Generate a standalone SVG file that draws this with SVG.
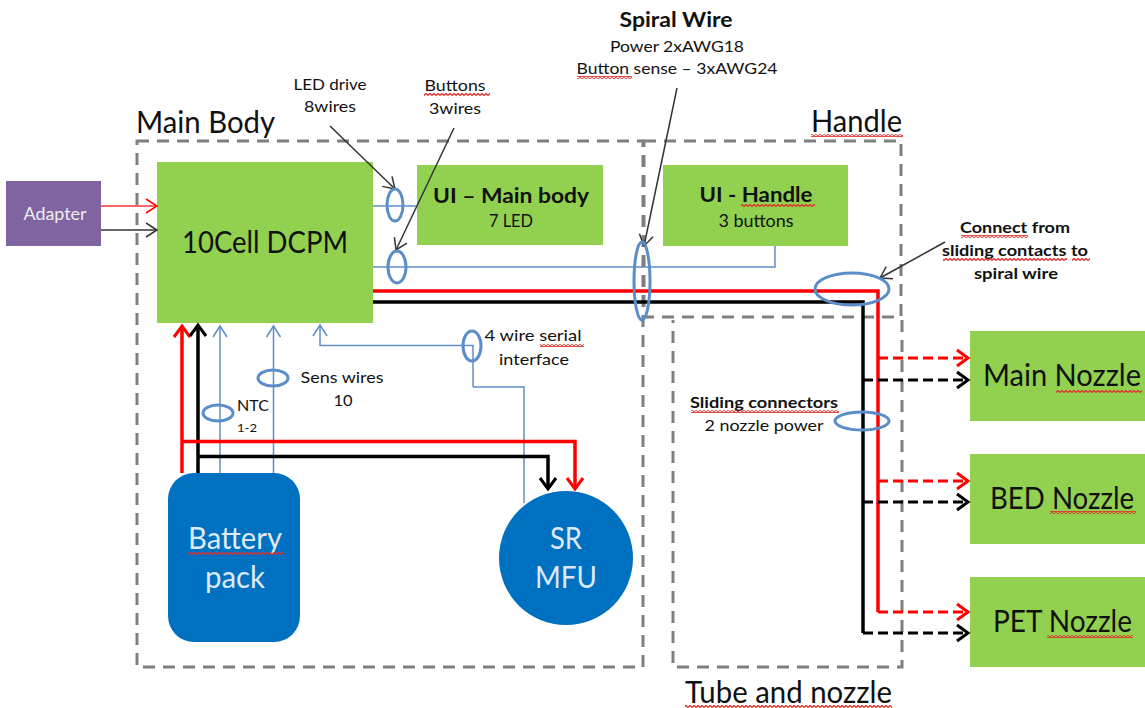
<svg xmlns="http://www.w3.org/2000/svg" width="1145" height="708" viewBox="0 0 1145 708">
<style>
text{font-family:Lato,"Open Sans","Liberation Sans",sans-serif;fill:#111}
.c{text-anchor:middle}
.b{font-weight:700}
.s14{font-size:16px}
.s16{font-size:17px}
.s20{font-size:21px}
.s27{font-size:30px}
.s28{font-size:30px}
.g{fill:#92d050}
.bl{fill:#0070c0}
.d{fill:none;stroke:#7f7f7f;stroke-width:3;stroke-dasharray:12 8}
.w{fill:none;stroke:#5f8dcb;stroke-width:1.500}
.e{fill:none;stroke:#5b8ec8;stroke-width:3}
.r{fill:none;stroke:#f00;stroke-width:3.500}
.k{fill:none;stroke:#000;stroke-width:3.500}
.rd{fill:none;stroke:#f00;stroke-width:3;stroke-dasharray:10 5}
.kd{fill:none;stroke:#000;stroke-width:3;stroke-dasharray:10 5}
.a{fill:none;stroke:#333;stroke-width:1.500}
.q{fill:url(#sq)}
</style>
<defs>
<pattern id="sq" width="4" height="3" patternUnits="userSpaceOnUse"><path d="M0 2.500L2 .5L4 2.500" fill="none" stroke="#e0302a" stroke-width="1.300"/></pattern>
<marker id="mr" markerUnits="userSpaceOnUse" markerWidth="18" markerHeight="20" refX="14" refY="10" orient="auto"><path d="M3 2L14 10L3 18" fill="none" stroke="#f00" stroke-width="3"/></marker>
<marker id="mk" markerUnits="userSpaceOnUse" markerWidth="18" markerHeight="20" refX="14" refY="10" orient="auto"><path d="M3 2L14 10L3 18" fill="none" stroke="#000" stroke-width="3"/></marker>
<marker id="mb" markerUnits="userSpaceOnUse" markerWidth="18" markerHeight="20" refX="14" refY="10" orient="auto"><path d="M3 3L14 10L3 17" fill="none" stroke="#5f8dcb" stroke-width="1.500"/></marker>
<marker id="mrt" markerUnits="userSpaceOnUse" markerWidth="18" markerHeight="20" refX="14" refY="10" orient="auto"><path d="M3 3L14 10L3 17" fill="none" stroke="#f00" stroke-width="1.500"/></marker>
<marker id="mkt" markerUnits="userSpaceOnUse" markerWidth="18" markerHeight="20" refX="14" refY="10" orient="auto"><path d="M3 3L14 10L3 17" fill="none" stroke="#333" stroke-width="1.500"/></marker>
</defs>
<rect width="1145" height="708" fill="#fff"/>
<g id="regions">
<rect class="d" x="137" y="141" width="506" height="526"/>
<rect class="d" x="644" y="141" width="257" height="176"/>
<path class="d" d="M902 320V667H673V320"/>
<text class="s28" x="136" y="133" textLength="139" lengthAdjust="spacingAndGlyphs">Main Body</text>
<text class="s28" x="811" y="132" textLength="91" lengthAdjust="spacingAndGlyphs">Handle</text>
<rect class="q" x="811" y="134" width="92" height="3"/>
<text class="s28" x="685" y="703" textLength="207" lengthAdjust="spacingAndGlyphs">Tube and nozzle</text>
<rect class="q" x="685" y="705" width="207" height="3"/>
</g>
<g id="adapter"><rect x="6" y="181" width="95" height="65" fill="#8064a2"/><text class="s16 c" x="55" y="220" style="fill:#eee" textLength="63" lengthAdjust="spacingAndGlyphs">Adapter</text></g>
<g id="dcpm"><rect class="g" x="157" y="162" width="216" height="161"/><text class="s27 c" x="265" y="253" textLength="166" lengthAdjust="spacingAndGlyphs">10Cell DCPM</text></g>
<g id="ui-main"><rect class="g" x="417" y="165" width="186" height="80"/><text class="s20 b c" x="511" y="203" textLength="156" lengthAdjust="spacingAndGlyphs">UI – Main body</text><text class="s16 c" x="511" y="227" textLength="44" lengthAdjust="spacingAndGlyphs">7 LED</text></g>
<g id="ui-handle"><rect class="g" x="663" y="165" width="185" height="81"/><text class="s20 b c" x="756" y="202" textLength="113" lengthAdjust="spacingAndGlyphs">UI - Handle</text><rect class="q" x="741" y="204" width="74" height="3"/><text class="s16 c" x="756" y="227" textLength="75" lengthAdjust="spacingAndGlyphs">3 buttons</text></g>
<g id="battery"><rect class="bl" x="168" y="473" width="132" height="169" rx="26"/><text class="s28 c" x="235" y="549" style="fill:#dfe9f5" textLength="94" lengthAdjust="spacingAndGlyphs">Battery</text><rect class="q" x="188" y="552" width="96" height="3"/><text class="s28 c" x="235" y="588" style="fill:#dfe9f5" textLength="60" lengthAdjust="spacingAndGlyphs">pack</text></g>
<g id="mfu"><circle class="bl" cx="566" cy="558" r="67"/><text class="s28 c" x="566" y="549" style="fill:#dfe9f5" textLength="32" lengthAdjust="spacingAndGlyphs">SR</text><text class="s28 c" x="566" y="588" style="fill:#dfe9f5" textLength="62" lengthAdjust="spacingAndGlyphs">MFU</text></g>
<g id="main-nozzle"><rect class="g" x="970" y="331" width="175" height="90"/><text class="s28" x="983" y="386" textLength="158" lengthAdjust="spacingAndGlyphs">Main Nozzle</text><rect class="q" x="1056" y="390" width="86" height="3"/></g>
<g id="bed-nozzle"><rect class="g" x="970" y="454" width="175" height="90"/><text class="s28" x="990" y="509" textLength="144" lengthAdjust="spacingAndGlyphs">BED Nozzle</text><rect class="q" x="1050" y="511" width="86" height="3"/></g>
<g id="pet-nozzle"><rect class="g" x="970" y="577" width="175" height="90"/><text class="s28" x="993" y="632" textLength="139" lengthAdjust="spacingAndGlyphs">PET Nozzle</text><rect class="q" x="1047" y="635" width="86" height="3"/></g>
<g id="connectors">
<path class="a" style="stroke:#f33" marker-end="url(#mrt)" d="M101 206H157"/>
<path class="a" marker-end="url(#mkt)" d="M101 230H157"/>
<path class="w" d="M373 206H417"/>
<path class="w" d="M373 267H775V246"/>
<path class="r" d="M373 291H878V612"/>
<path class="k" d="M373 302H863V633"/>
<path class="rd" marker-end="url(#mr)" d="M878 358H968"/>
<path class="kd" marker-end="url(#mk)" d="M863 380H968"/>
<path class="rd" marker-end="url(#mr)" d="M878 481H968"/>
<path class="kd" marker-end="url(#mk)" d="M863 502H968"/>
<path class="rd" marker-end="url(#mr)" d="M878 612H968"/>
<path class="kd" marker-end="url(#mk)" d="M863 633H968"/>
<path class="r" marker-end="url(#mr)" d="M182 473V326"/>
<path class="k" marker-end="url(#mk)" d="M198 473V325"/>
<path class="w" marker-end="url(#mb)" d="M220 473V326"/>
<path class="w" marker-end="url(#mb)" d="M273.500 473V326"/>
<path class="w" marker-end="url(#mb)" d="M473 387V345.500H320V325"/>
<path class="w" d="M473 387H524V503"/>
<path class="r" marker-end="url(#mr)" d="M183 441.500H575V489"/>
<path class="k" marker-end="url(#mk)" d="M198 456.500H548V489"/>
<path class="a" marker-end="url(#mkt)" d="M330 126L395 189"/>
<path class="a" marker-end="url(#mkt)" d="M454 128L396 250"/>
<path class="a" marker-end="url(#mkt)" d="M677 88L644 246"/>
<path class="a" marker-end="url(#mkt)" d="M945 242L880 278"/>
<ellipse class="e" cx="395" cy="205" rx="8" ry="16"/>
<ellipse class="e" cx="397" cy="267" rx="9" ry="16"/>
<ellipse class="e" cx="642" cy="281" rx="8" ry="39"/>
<ellipse class="e" cx="852" cy="289" rx="37" ry="16"/>
<ellipse class="e" cx="862" cy="421" rx="27" ry="9"/>
<ellipse class="e" cx="218" cy="413" rx="15" ry="8"/>
<ellipse class="e" cx="273" cy="378" rx="15" ry="8"/>
<ellipse class="e" cx="472" cy="346" rx="9" ry="15"/>
</g>
<g id="labels">
<text class="s20 b c" x="676" y="27" style="font-size:20px" textLength="113" lengthAdjust="spacingAndGlyphs">Spiral Wire</text>
<text class="s14 c" x="677" y="52" textLength="134" lengthAdjust="spacingAndGlyphs">Power 2xAWG18</text>
<text class="s14 c" x="677" y="74" textLength="201" lengthAdjust="spacingAndGlyphs">Button sense – 3xAWG24</text>
<rect class="q" x="577" y="76" width="55" height="3"/>
<text class="s14 c" x="330" y="90" textLength="73" lengthAdjust="spacingAndGlyphs">LED drive</text>
<text class="s14 c" x="330" y="112" textLength="52" lengthAdjust="spacingAndGlyphs">8wires</text>
<text class="s14 c" x="455" y="91" textLength="61" lengthAdjust="spacingAndGlyphs">Buttons</text>
<rect class="q" x="424" y="93" width="66" height="3"/>
<text class="s14 c" x="455" y="114" textLength="52" lengthAdjust="spacingAndGlyphs">3wires</text>
<text class="s14 b c" x="1015" y="233" textLength="110" lengthAdjust="spacingAndGlyphs">Connect from</text>
<rect class="q" x="961" y="235" width="67" height="3"/>
<text class="s14 b c" x="1015" y="256" textLength="146" lengthAdjust="spacingAndGlyphs">sliding contacts to</text>
<rect class="q" x="943" y="258" width="124" height="3"/>
<rect class="q" x="1072" y="258" width="18" height="3"/>
<text class="s14 b c" x="1016" y="279" textLength="84" lengthAdjust="spacingAndGlyphs">spiral wire</text>
<text class="s14 b c" x="764" y="408" textLength="148" lengthAdjust="spacingAndGlyphs">Sliding connectors</text>
<rect class="q" x="691" y="410" width="148" height="3"/>
<text class="s14 c" x="764" y="431" textLength="119" lengthAdjust="spacingAndGlyphs">2 nozzle power</text>
<text class="s14 c" x="533" y="341" textLength="97" lengthAdjust="spacingAndGlyphs">4 wire serial</text>
<rect class="q" x="540" y="344" width="44" height="3"/>
<text class="s14 c" x="534" y="365" textLength="70" lengthAdjust="spacingAndGlyphs">interface</text>
<text class="s14 c" x="342" y="383" textLength="83" lengthAdjust="spacingAndGlyphs">Sens wires</text>
<text class="s14 c" x="343" y="406" textLength="19" lengthAdjust="spacingAndGlyphs">10</text>
<text class="s14" x="237" y="411" textLength="32" lengthAdjust="spacingAndGlyphs">NTC</text>
<text x="237" y="432" style="font-size:12px" textLength="20" lengthAdjust="spacingAndGlyphs">1-2</text>
</g>
</svg>
